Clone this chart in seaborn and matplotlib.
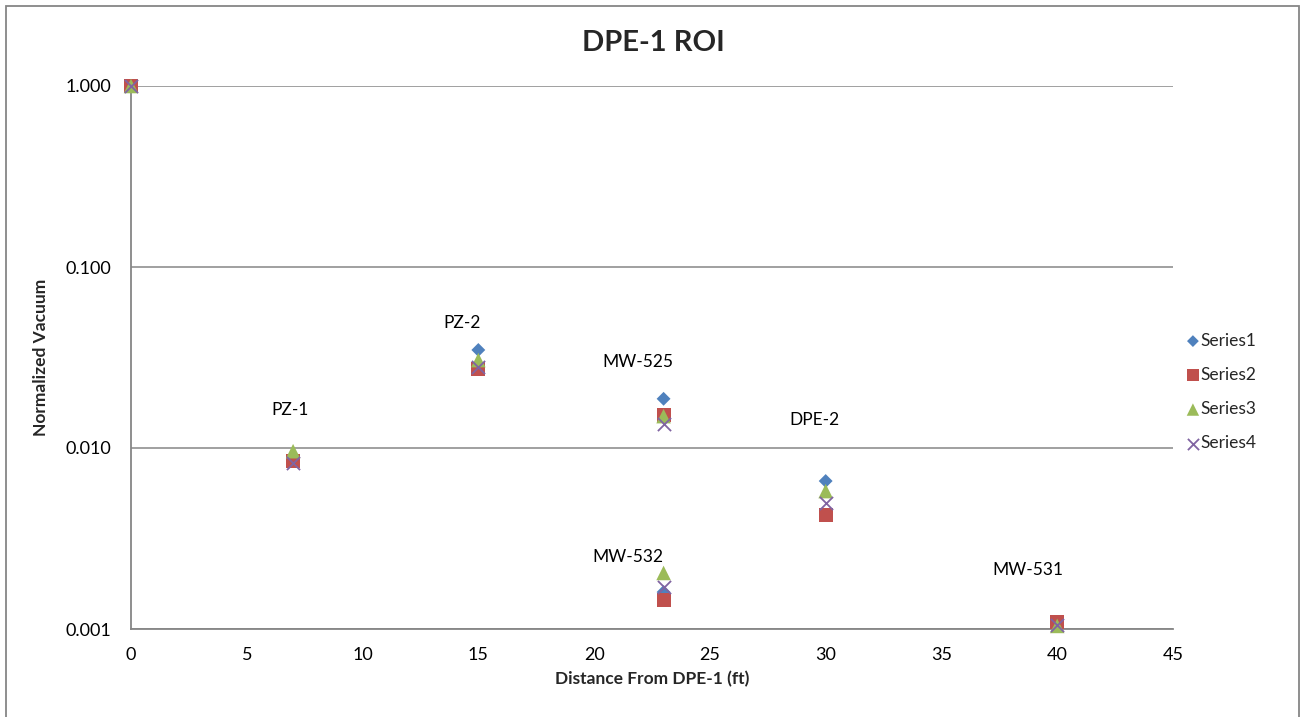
import matplotlib
matplotlib.use("Agg")
import matplotlib.pyplot as plt
import matplotlib.ticker as mticker
from matplotlib.patches import Rectangle
import seaborn as sns

# Distances (ft) from DPE-1 for each monitoring point
distance = [0, 7, 15, 23, 23, 30, 40]

# Normalized vacuum readings per test series
series1 = [1.0, 0.0088, 0.0348, 0.0187, 0.0016, 0.00657, 0.00105]
series2 = [1.0, 0.0085, 0.0273, 0.0152, 0.00145, 0.00427, 0.00109]
series3 = [1.0, 0.0096, 0.0306, 0.0150, 0.00204, 0.00578, 0.00104]
series4 = [1.0, 0.0083, 0.0280, 0.0136, 0.00170, 0.00497, 0.00105]

series_names = ["Series1", "Series2", "Series3", "Series4"]
series_values = [series1, series2, series3, series4]

# Monitoring point labels and their positions
point_labels = ["PZ-1", "PZ-2", "MW-525", "MW-532", "DPE-2", "MW-531"]
label_x = [6.87, 14.29, 21.9, 21.46, 29.53, 38.73]
label_y = [0.0162, 0.049, 0.0299, 0.0025, 0.0143, 0.00212]

x_ticks = [0, 5, 10, 15, 20, 25, 30, 35, 40, 45]
y_ticks = [0.001, 0.01, 0.1, 1.0]

sns.set_theme(style="white")
plt.rcParams["font.family"] = ["Lato", "DejaVu Sans"]

colors = ["#4F81BD", "#C0504D", "#9BBB59", "#8064A2"]
markers = ["D", "s", "^", "x"]
sizes = [50, 100, 110, 90]

fig = plt.figure(figsize=(13.01, 7.17), dpi=100)
ax = fig.add_axes([131 / 1301, 1 - 629 / 717, (1173 - 131) / 1301, (629 - 86) / 717])

for name, vals, c, m, s in zip(series_names, series_values, colors, markers, sizes):
    kw = dict(edgecolor="none") if m != "x" else dict(linewidth=1.3)
    sns.scatterplot(x=distance, y=vals, marker=m, color=c, s=s, label=name,
                    ax=ax, clip_on=False, zorder=3, **kw)

ax.set_yscale("log")
ax.set_xlim(0, 45)
ax.set_ylim(0.001, 1.0)
ax.set_xticks(x_ticks)
ax.set_yticks(y_ticks)
ax.yaxis.set_major_formatter(mticker.FormatStrFormatter("%.3f"))
ax.yaxis.set_minor_locator(mticker.NullLocator())
ax.tick_params(axis="both", length=0, labelsize=13, colors="black")
ax.tick_params(axis="x", pad=13)
ax.tick_params(axis="y", pad=14)

ax.grid(axis="y", which="major", color="#868686", linewidth=1.1)
ax.grid(axis="x", visible=False)
for side in ["top", "right"]:
    ax.spines[side].set_visible(False)
for side in ["left", "bottom"]:
    ax.spines[side].set_color("#868686")
    ax.spines[side].set_linewidth(1.3)
ax.set_axisbelow(True)

for txt, lx, ly in zip(point_labels, label_x, label_y):
    ax.text(lx, ly, txt, ha="center", va="center", fontsize=12.5, color="black")

ax.set_xlabel("Distance From DPE-1 (ft)", fontsize=12.5, fontweight="bold", labelpad=6)
ax.set_ylabel("Normalized Vacuum", fontsize=12.5, fontweight="bold", labelpad=12)
fig.text(0.502, 1 - 43 / 717, "DPE-1 ROI", ha="center", va="center",
         fontsize=21, fontweight="bold")

leg = ax.legend(loc="center left", bbox_to_anchor=(1166 / 1301, 1 - 392 / 717),
                bbox_transform=fig.transFigure, frameon=False, fontsize=12.5,
                handletextpad=-0.2, labelspacing=1.05, markerscale=0.85,
                handlelength=1.3)

# chart area border
fig.patches.append(Rectangle((6 / 1301, -0.01), 1293 / 1301, 1 - 6 / 717 + 0.01,
                             transform=fig.transFigure, fill=False,
                             edgecolor="#868686", linewidth=1.3))

fig.savefig("out.png", dpi=100)
